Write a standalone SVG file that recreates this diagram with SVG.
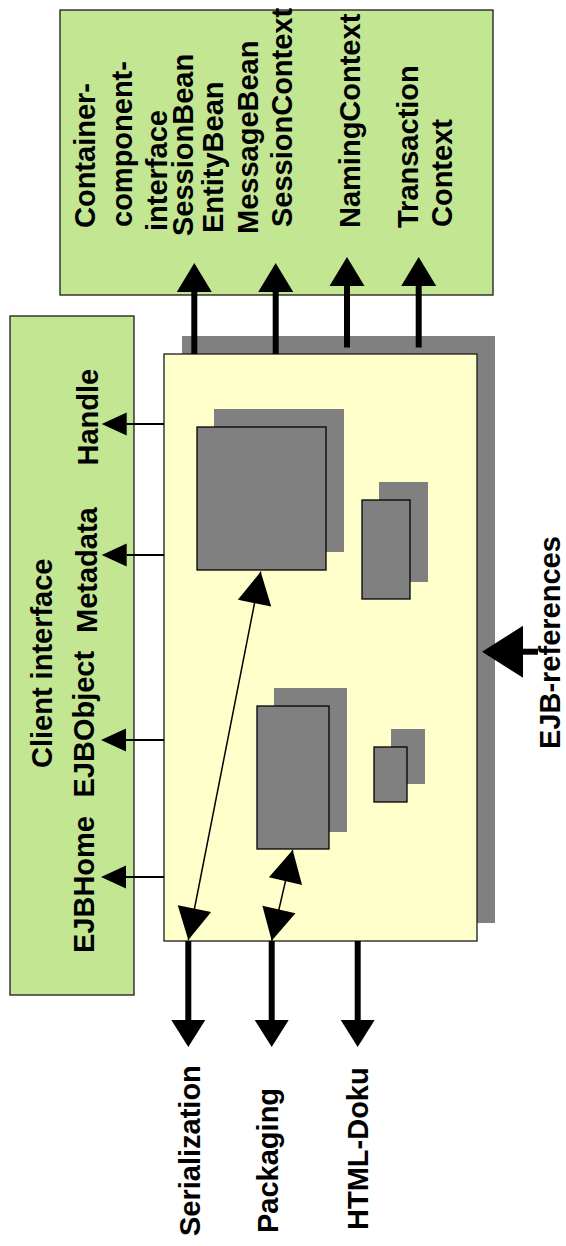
<svg xmlns="http://www.w3.org/2000/svg" width="566" height="1246" viewBox="0 0 566 1246">
<style>
.green{fill:#c2e692;stroke:#1a1a1a;stroke-width:1.3}
.yellow{fill:#ffffcc;stroke:#1a1a1a;stroke-width:1.3}
.shadow{fill:#808080;stroke:none}
.comp{fill:#808080;stroke:#000;stroke-width:1.3}
.lbl{font-family:"Liberation Sans",Arial,sans-serif;font-weight:bold;font-size:29px;fill:#000}
.thick{stroke:#000;stroke-width:6;fill:none}
.thin{stroke:#000;stroke-width:2;fill:none}
.diag{stroke:#000;stroke-width:1.5;fill:none}
</style>
<defs>
<marker id="ahBig" markerUnits="userSpaceOnUse" orient="auto" refX="0" refY="17.5" markerWidth="30" markerHeight="36" viewBox="0 0 30 35" overflow="visible">
<path d="M0,0 L29,17.5 L0,35 Z" fill="#000"/>
</marker>
<marker id="ahBot" markerUnits="userSpaceOnUse" orient="auto" refX="0" refY="17" markerWidth="28" markerHeight="34" viewBox="0 0 28 34" overflow="visible">
<path d="M0,0 L27,17 L0,34 Z" fill="#000"/>
</marker>
<marker id="ahSmall" markerUnits="userSpaceOnUse" orient="auto" refX="0" refY="11.5" markerWidth="26" markerHeight="23" viewBox="0 0 26 23" overflow="visible">
<path d="M0,0 L25,11.5 L0,23 Z" fill="#000"/>
</marker>
<marker id="ahDiag" markerUnits="userSpaceOnUse" orient="auto-start-reverse" refX="32" refY="17" markerWidth="32" markerHeight="34" viewBox="0 0 32 34" overflow="visible">
<path d="M0,0 L32,17 L0,34 Z" fill="#000"/>
</marker>
<marker id="ahRef" markerUnits="userSpaceOnUse" orient="auto" refX="0" refY="26" markerWidth="42" markerHeight="52" viewBox="0 0 42 52" overflow="visible">
<path d="M0,0 L41,26 L0,52 Z" fill="#000"/>
</marker>
</defs>

<g id="container-interface">
<rect class="green" x="60" y="10" width="433" height="285"/>
<text class="lbl" transform="translate(95,228) rotate(-90)">Container-</text>
<text class="lbl" transform="translate(131.5,227) rotate(-90)">component-</text>
<text class="lbl" transform="translate(166.5,231) rotate(-90)">interface</text>
<text class="lbl" transform="translate(193.3,236) rotate(-90)">SessionBean</text>
<text class="lbl" transform="translate(223.3,233) rotate(-90)">EntityBean</text>
<text class="lbl" transform="translate(258.3,234) rotate(-90)">MessageBean</text>
<text class="lbl" transform="translate(291.7,227) rotate(-90)">SessionContext</text>
<text class="lbl" transform="translate(360,228) rotate(-90)">NamingContext</text>
<text class="lbl" transform="translate(418.3,228) rotate(-90)">Transaction</text>
<text class="lbl" transform="translate(451.7,227) rotate(-90)">Context</text>
</g>

<g id="client-interface">
<rect class="green" x="10" y="316" width="124" height="679"/>
<text class="lbl" transform="translate(51.7,768) rotate(-90)">Client interface</text>
<text class="lbl" transform="translate(98.3,465.5) rotate(-90)">Handle</text>
<text class="lbl" transform="translate(97,633) rotate(-90)">Metadata</text>
<text class="lbl" transform="translate(93.5,797.5) rotate(-90)">EJBObject</text>
<text class="lbl" transform="translate(94,953) rotate(-90)">EJBHome</text>
</g>

<g id="container">
<rect class="shadow" x="182" y="336" width="313" height="587"/>
<rect class="yellow" x="164" y="354" width="313" height="587"/>
</g>

<g id="bean-1">
<rect class="shadow" x="214" y="409" width="130" height="143"/>
<rect class="comp" x="197" y="427" width="129" height="143"/>
</g>
<g id="bean-2">
<rect class="shadow" x="379" y="482" width="49" height="100"/>
<rect class="comp" x="362" y="500" width="48" height="99"/>
</g>
<g id="bean-3">
<rect class="shadow" x="274" y="688" width="73" height="144"/>
<rect class="comp" x="257" y="706" width="72" height="143"/>
</g>
<g id="bean-4">
<rect class="shadow" x="391" y="729" width="34" height="55"/>
<rect class="comp" x="374" y="747" width="33" height="55"/>
</g>

<g id="labels-outside">
<text class="lbl" transform="translate(200,1236) rotate(-90)">Serialization</text>
<text class="lbl" transform="translate(278,1233) rotate(-90)">Packaging</text>
<text class="lbl" transform="translate(368.3,1230) rotate(-90)">HTML-Doku</text>
<text class="lbl" transform="translate(559.5,749) rotate(-90)">EJB-references</text>
</g>

<g id="connectors">
<line class="thick" x1="194.3" y1="354" x2="194.3" y2="292" marker-end="url(#ahBig)"/>
<line class="thick" x1="275.7" y1="354" x2="275.7" y2="292" marker-end="url(#ahBig)"/>
<line class="thick" x1="347" y1="347.5" x2="347" y2="286" marker-end="url(#ahBig)"/>
<line class="thick" x1="418.7" y1="347.5" x2="418.7" y2="286" marker-end="url(#ahBig)"/>

<line class="thin" x1="164" y1="424" x2="126.7" y2="424" marker-end="url(#ahSmall)"/>
<line class="thin" x1="164" y1="555" x2="126.7" y2="555" marker-end="url(#ahSmall)"/>
<line class="thin" x1="164" y1="740" x2="126" y2="740" marker-end="url(#ahSmall)"/>
<line class="thin" x1="164" y1="877" x2="126" y2="877" marker-end="url(#ahSmall)"/>

<line class="thick" x1="188.3" y1="941" x2="188.3" y2="1020" marker-end="url(#ahBot)"/>
<line class="thick" x1="271.7" y1="941" x2="271.7" y2="1020" marker-end="url(#ahBot)"/>
<line class="thick" x1="357.7" y1="941" x2="357.7" y2="1020" marker-end="url(#ahBot)"/>

<line class="thick" x1="538" y1="651.7" x2="523" y2="651.7" marker-end="url(#ahRef)"/>

<line class="diag" x1="188.3" y1="940" x2="260.7" y2="571.7" marker-start="url(#ahDiag)" marker-end="url(#ahDiag)"/>
<line class="diag" x1="271.7" y1="940.7" x2="292.7" y2="850" marker-start="url(#ahDiag)" marker-end="url(#ahDiag)"/>
</g>
</svg>
